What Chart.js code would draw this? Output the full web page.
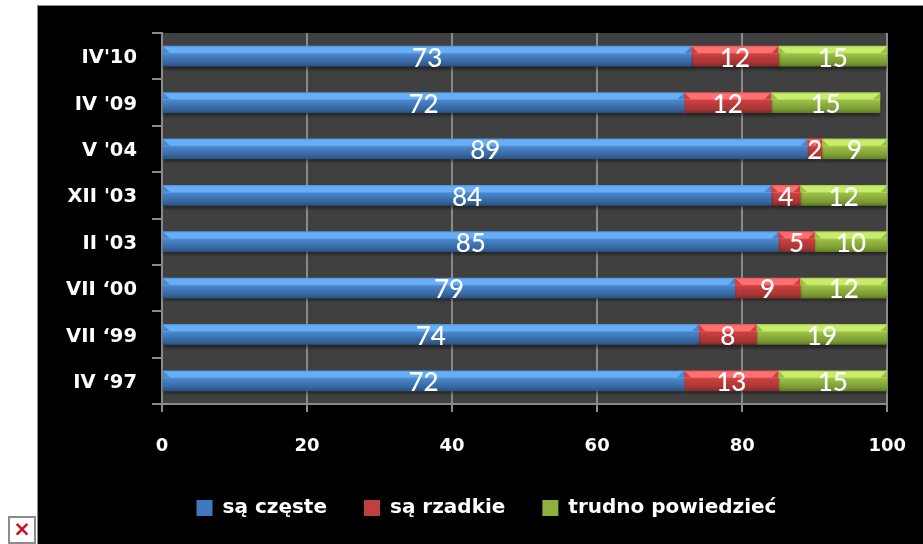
<!DOCTYPE html>
<html>
<head>
<meta charset="utf-8">
<style>
  html, body { margin: 0; padding: 0; background: #fff; overflow: hidden; }
  #panel { position: absolute; left: 37px; top: 5px; width: 886px; height: 539px; background: #000;
    border-left: 1px solid #8c8c8c; border-top: 1px solid #8c8c8c; box-sizing: border-box; }
  #wrap { position: absolute; left: 49px; top: 6px; width: 881px; height: 538px; }
  #broken { position: absolute; left: 8px; top: 516px; width: 28px; height: 28px; box-sizing: border-box;
    border: 2px solid #8c8c8c; background: #fff; color: #c8102e; font: bold 21px/23px "DejaVu Sans"; text-align: center; }
</style>
</head>
<body>
<div id="panel"></div>
<div id="broken">×</div>
<div id="wrap"><canvas id="chart"></canvas></div>
<script src="https://cdn.jsdelivr.net/npm/chart.js@4/dist/chart.umd.min.js"></script>
<script>
const categories = ["IV'10", "IV '09", "V '04", "XII '03", "II '03", "VII ‘00", "VII ‘99", "IV ‘97"];
const czeste = [73, 72, 89, 84, 85, 79, 74, 72];
const rzadkie = [12, 12, 2, 4, 5, 9, 8, 13];
const trudno = [15, 15, 9, 12, 10, 12, 19, 15];
const seriesNames = ['są częste', 'są rzadkie', 'trudno powiedzieć'];
// edge, highlight, body, lower, bottom
const ramps = [
  ['#4f8fd8', '#66aef5', '#4a86cc', '#35669f', '#2a4f7e'],
  ['#e05555', '#ff7070', '#cc4040', '#a83535', '#7f2a2a'],
  ['#a4c84e', '#c8ec6c', '#9cc045', '#7c9c35', '#5f7a28']
];
const legendColors = ['#3f78bd', '#c04040', '#8fb03c'];
const FONT = '"DejaVu Sans", sans-serif';

function barFill(i) {
  return ctx => {
    const chart = ctx.chart;
    const mid = chart.scales.y ? chart.scales.y.getPixelForValue(ctx.dataIndex) : NaN;
    if (!Number.isFinite(mid)) return ramps[i][2];
    const g = chart.ctx.createLinearGradient(0, mid - 10.5, 0, mid + 10.5);
    g.addColorStop(0, ramps[i][0]);
    g.addColorStop(0.1, ramps[i][1]);
    g.addColorStop(0.32, ramps[i][1]);
    g.addColorStop(0.4, ramps[i][2]);
    g.addColorStop(0.8, ramps[i][3]);
    g.addColorStop(1, ramps[i][4]);
    return g;
  };
}

const plotBack = {
  id: 'plotBack',
  beforeDraw(chart) {
    const a = chart.chartArea;
    chart.ctx.fillStyle = '#404040';
    chart.ctx.fillRect(a.left, a.top, a.width, a.height);
  }
};

// the legend sits a bit right of the canvas centre
const legendShift = {
  id: 'legendShift',
  afterLayout(chart) {
    chart.legend.left += 15;
    chart.legend.right += 15;
  }
};

// soft shadow under the bars
const barShadow = {
  id: 'barShadow',
  beforeDatasetsDraw(chart) {
    const c = chart.ctx;
    c.save();
    c.shadowColor = 'rgba(0,0,0,0.45)';
    c.shadowOffsetY = 3;
    c.shadowBlur = 3;
  },
  afterDatasetsDraw(chart) {
    chart.ctx.restore();
  }
};

// mitred ends of the bevel, then the white value on each segment
const barOverlay = {
  id: 'barOverlay',
  afterDatasetsDraw(chart) {
    const c = chart.ctx;
    const a = chart.chartArea;
    c.save();
    chart.data.datasets.forEach((ds, i) => {
      chart.getDatasetMeta(i).data.forEach(bar => {
        const right = Math.min(bar.x, a.right);
        const top = bar.y - bar.height / 2;
        const d = bar.height * 0.34;
        c.fillStyle = ramps[i][2];
        c.beginPath();
        c.moveTo(bar.base, top);
        c.lineTo(bar.base + d, top + d);
        c.lineTo(bar.base, top + d);
        c.moveTo(right, top);
        c.lineTo(right - d, top + d);
        c.lineTo(right, top + d);
        c.fill();
      });
    });
    c.fillStyle = '#fff';
    c.font = '500 26px Lato, sans-serif';
    c.textAlign = 'center';
    c.textBaseline = 'middle';
    chart.data.datasets.forEach((ds, i) => {
      chart.getDatasetMeta(i).data.forEach((bar, j) => {
        const right = Math.min(bar.x, a.right);
        c.fillText(ds.data[j], (bar.base + right) / 2, bar.y + 2);
      });
    });
    c.restore();
  }
};

new Chart(document.getElementById('chart'), {
  type: 'bar',
  data: {
    labels: categories,
    datasets: [czeste, rzadkie, trudno].map((d, i) => ({
      label: seriesNames[i],
      data: d,
      backgroundColor: barFill(i),
      barThickness: 20
    }))
  },
  options: {
    indexAxis: 'y',
    responsive: true,
    maintainAspectRatio: false,
    animation: false,
    layout: { padding: { top: 27, right: 36, bottom: 16, left: 0 } },
    plugins: {
      tooltip: { enabled: false },
      legend: {
        position: 'bottom',
        labels: {
          color: '#fff',
          boxWidth: 16,
          boxHeight: 16,
          padding: 37,
          font: { family: FONT, size: 20, weight: 'bold' },
          generateLabels(chart) {
            const items = Chart.defaults.plugins.legend.labels.generateLabels(chart);
            items.forEach((it, i) => { it.fillStyle = legendColors[i]; it.strokeStyle = legendColors[i]; });
            return items;
          }
        }
      }
    },
    scales: {
      x: {
        stacked: true,
        min: 0,
        max: 100,
        afterFit(s) { s.height = 57; },
        ticks: { stepSize: 20, color: '#fff', padding: 24, font: { family: FONT, size: 18, weight: 'bold' } },
        grid: { color: '#8a8a8a', lineWidth: 2, tickLength: 8 },
        border: { color: '#8a8a8a', width: 2 }
      },
      y: {
        stacked: true,
        afterFit(s) { s.width = 113; },
        ticks: { color: '#fff', padding: 15, labelOffset: 2, font: { family: FONT, size: 19.5, weight: 'bold' } },
        grid: { drawOnChartArea: false, color: '#8a8a8a', lineWidth: 2, tickLength: 10 },
        border: { color: '#8a8a8a', width: 2 }
      }
    }
  },
  plugins: [plotBack, legendShift, barShadow, barOverlay]
});
</script>
</body>
</html>
